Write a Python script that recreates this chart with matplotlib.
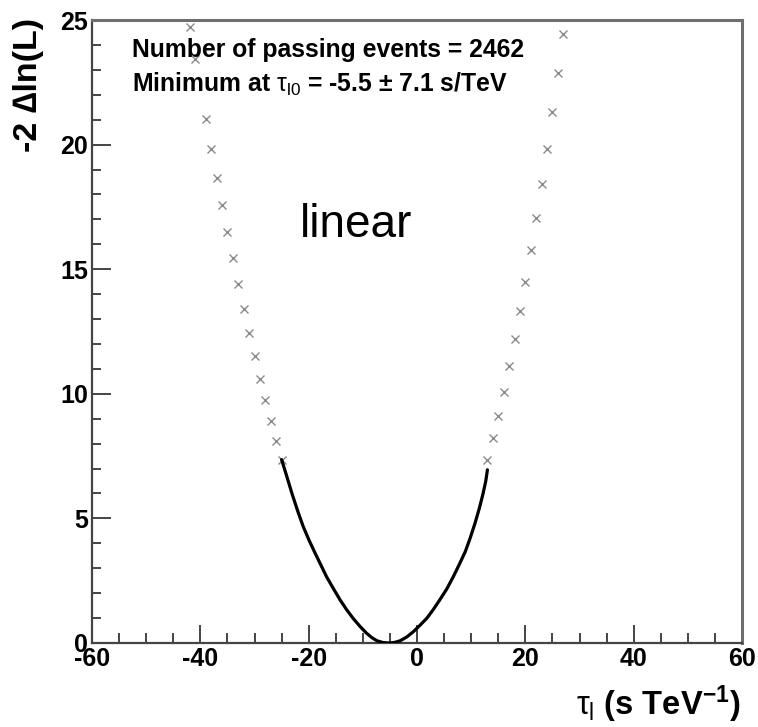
import matplotlib
matplotlib.use("Agg")
import matplotlib.pyplot as plt
from matplotlib.ticker import MultipleLocator

# ===============================
# DATA
# ===============================
# likelihood scan points (grey crosses)
scan_tau = [-42, -41, -39, -38, -37, -36, -35, -34, -33, -32, -31, -30, -29, -28, -27, -26, -25,
            13, 14, 15, 16, 17, 18, 19, 20, 21, 22, 23, 24, 25, 26, 27]
scan_nll = [24.73, 23.42, 21.02, 19.82, 18.67, 17.56, 16.48, 15.44, 14.39, 13.39, 12.44, 11.50,
            10.61, 9.75, 8.91, 8.09, 7.33,
            7.33, 8.21, 9.11, 10.08, 11.12, 12.19, 13.34, 14.50, 15.77, 17.04, 18.41, 19.82,
            21.30, 22.86, 24.44]

# fitted curve (black line)
fit_tau = [-25.0, -24.0, -23.1, -22.0, -21.0, -19.9, -18.8, -17.7, -16.7, -15.4, -14.2, -13.0,
           -11.8, -10.5, -9.3, -8.3, -7.4, -6.3, -5.3, -4.2, -3.1, -1.9, -0.7, 0.5, 1.8,
           3.0, 4.2, 5.5, 6.7, 7.8, 8.9, 9.8, 10.7, 11.5, 12.2, 12.7, 13.0]
fit_nll = [7.36, 6.66, 6.01, 5.28, 4.67, 4.11, 3.60, 3.11, 2.66, 2.17, 1.73, 1.34,
           0.99, 0.66, 0.39, 0.21, 0.09, 0.02, 0.00, 0.02, 0.09, 0.24, 0.45, 0.70, 0.99,
           1.34, 1.73, 2.17, 2.66, 3.15, 3.66, 4.20, 4.80, 5.40, 6.00, 6.50, 6.95]

n_events = 2462
tau_min, tau_err = -5.5, 7.1

# ===============================
# STYLE
# ===============================
plt.rcParams['font.family'] = ['Liberation Sans', 'DejaVu Sans']
plt.rcParams['axes.unicode_minus'] = False
plt.rcParams['mathtext.fontset'] = 'custom'
plt.rcParams['mathtext.rm'] = 'Liberation Sans'
plt.rcParams['mathtext.it'] = 'Liberation Sans'
plt.rcParams['mathtext.bf'] = 'Liberation Sans:bold'

fig = plt.figure(figsize=(7.58, 7.27), dpi=100, facecolor='white')
ax = fig.add_axes([92 / 758, 84 / 727, 650 / 758, 623 / 727])

ax.plot(scan_tau, scan_nll, linestyle='none', marker='x', color='#8a8a8a',
        markersize=5.5, markeredgewidth=1.0, zorder=3)
ax.plot(fit_tau, fit_nll, color='black', linewidth=2.3, solid_capstyle='round',
        solid_joinstyle='round', zorder=4)

ax.set_xlim(-60, 60)
ax.set_ylim(0, 25)
ax.xaxis.set_major_locator(MultipleLocator(20))
ax.xaxis.set_minor_locator(MultipleLocator(5))
ax.yaxis.set_major_locator(MultipleLocator(5))
ax.yaxis.set_minor_locator(MultipleLocator(1))

ax.tick_params(axis='both', which='both', direction='in', top=False, right=False,
               color='#444444', width=1.4)
ax.tick_params(axis='x', which='major', length=13, pad=3)
ax.tick_params(axis='x', which='minor', length=7)
ax.tick_params(axis='y', which='major', length=14, pad=3)
ax.tick_params(axis='y', which='minor', length=6.5)
for lab in ax.get_xticklabels() + ax.get_yticklabels():
    lab.set_fontsize(18)
    lab.set_fontweight('bold')

for side in ['left', 'bottom']:
    ax.spines[side].set_color('#444444')
    ax.spines[side].set_linewidth(1.6)
for side in ['top', 'right']:
    ax.spines[side].set_color('#6e6e6e')
    ax.spines[side].set_linewidth(2.2)

# text box
ax.text(0.0615, 0.9406, f"Number of passing events = {n_events}", transform=ax.transAxes,
        fontsize=17.8, fontweight='bold', ha='left', va='baseline')
ax.text(0.0615, 0.8844,
        "Minimum at $\\tau_{\\mathrm{l0}}$ = " + f"{tau_min} \u00b1 {tau_err} s/TeV",
        transform=ax.transAxes, fontsize=17.8, fontweight='bold', ha='left', va='baseline')
ax.text(0.32, 0.6517, "linear", transform=ax.transAxes, fontsize=33, ha='left', va='baseline')

# axis titles
fig.text(28 / 758, 1 - 18 / 727, "-2 \u2206ln(L)", rotation=90, fontsize=24.5, fontweight='bold',
         ha='center', va='top')
fig.text(740 / 758, 2 / 727, "$\\tau_{\\mathrm{l}}$ (s TeV$^{\\mathbf{-1}}$)", fontsize=23.5,
         fontweight='bold', ha='right', va='bottom')

fig.savefig("out.png", dpi=100, facecolor='white')
